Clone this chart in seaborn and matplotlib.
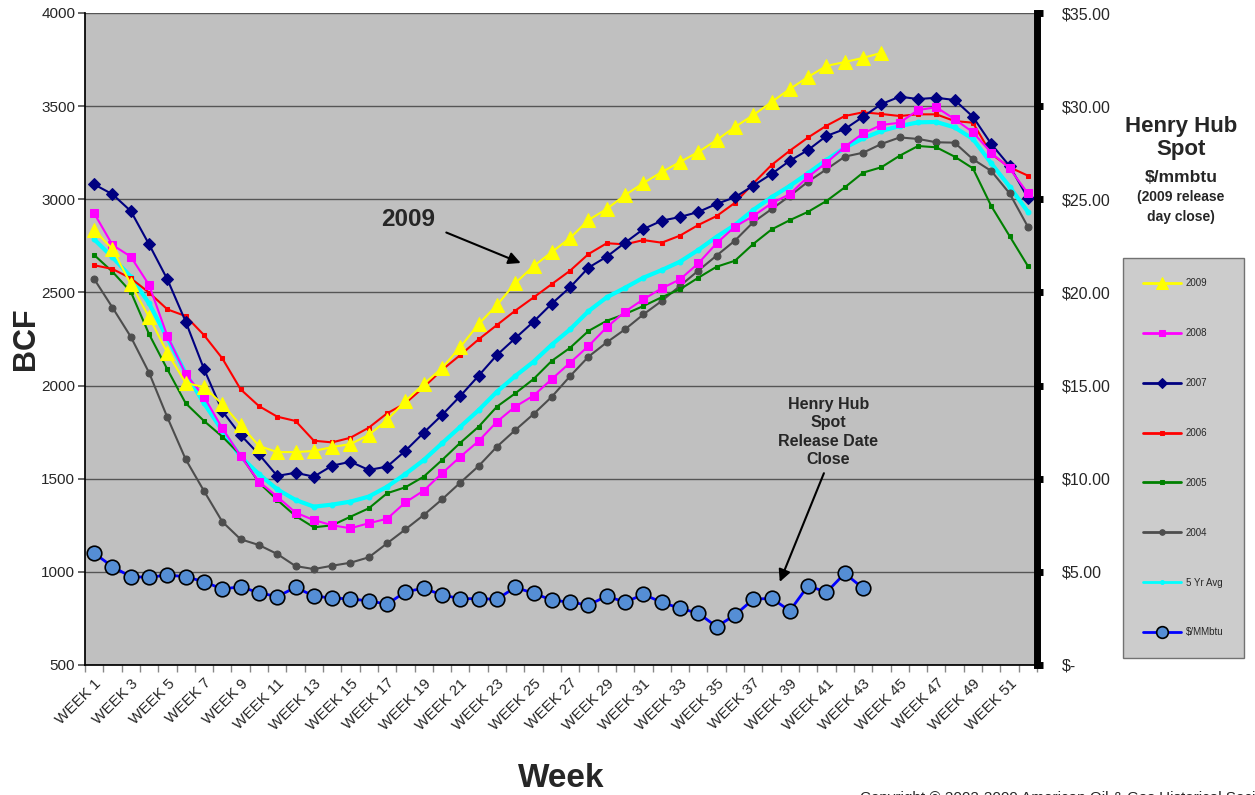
import numpy as np
import pandas as pd
import matplotlib
matplotlib.use('Agg')
import matplotlib.pyplot as plt
import seaborn as sns
from matplotlib.ticker import FixedLocator

sns.set_theme(style='white')
plt.rcParams['font.family'] = ['Liberation Sans', 'DejaVu Sans']

week_labels = [f'WEEK {i}' for i in range(1, 53)]

y2009 = [2835, 2733, 2545, 2368, 2175, 2014, 1992, 1901, 1788, 1676,
         1643, 1643, 1649, 1670, 1686, 1735, 1815, 1917, 2008, 2094,
         2207, 2330, 2432, 2550, 2641, 2717, 2792, 2889, 2948, 3023,
         3087, 3146, 3200, 3254, 3318, 3388, 3452, 3522, 3592, 3657,
         3716, 3737, 3759, 3786]
y2008 = [2925, 2755, 2692, 2540, 2266, 2062, 1940, 1771, 1622, 1484,
         1404, 1318, 1278, 1250, 1234, 1261, 1285, 1373, 1436, 1529,
         1618, 1702, 1806, 1887, 1946, 2035, 2123, 2212, 2313, 2397,
         2463, 2522, 2570, 2656, 2764, 2853, 2910, 2978, 3028, 3121,
         3196, 3282, 3354, 3399, 3411, 3479, 3494, 3430, 3360, 3250,
         3166, 3032]
y2007 = [3080, 3027, 2937, 2758, 2570, 2343, 2089, 1863, 1735, 1631,
         1515, 1532, 1511, 1570, 1591, 1547, 1565, 1650, 1747, 1842,
         1944, 2053, 2164, 2254, 2343, 2440, 2528, 2633, 2692, 2767,
         2840, 2885, 2905, 2932, 2975, 3011, 3073, 3136, 3207, 3265,
         3340, 3377, 3443, 3511, 3551, 3538, 3545, 3533, 3443, 3297,
         3179, 3008]
y2006 = [2646, 2626, 2576, 2499, 2409, 2373, 2271, 2146, 1980, 1890,
         1833, 1810, 1704, 1695, 1720, 1774, 1851, 1905, 1991, 2084,
         2164, 2248, 2325, 2402, 2473, 2545, 2617, 2706, 2764, 2758,
         2781, 2767, 2805, 2862, 2910, 2981, 3085, 3184, 3261, 3332,
         3395, 3447, 3467, 3458, 3447, 3456, 3456, 3420, 3411, 3243,
         3172, 3127]
y2005 = [2701, 2611, 2504, 2276, 2087, 1905, 1810, 1726, 1627, 1479,
         1386, 1300, 1239, 1250, 1296, 1341, 1422, 1454, 1511, 1600,
         1693, 1779, 1887, 1958, 2035, 2133, 2203, 2293, 2348, 2384,
         2427, 2474, 2517, 2579, 2638, 2670, 2760, 2838, 2888, 2933,
         2991, 3064, 3143, 3172, 3234, 3286, 3279, 3229, 3166, 2964,
         2803, 2642]
y2004 = [2572, 2419, 2262, 2069, 1829, 1604, 1434, 1269, 1175, 1144,
         1096, 1031, 1015, 1033, 1049, 1078, 1153, 1228, 1305, 1389,
         1479, 1568, 1672, 1761, 1847, 1940, 2051, 2155, 2232, 2302,
         2382, 2454, 2535, 2617, 2698, 2778, 2877, 2947, 3018, 3095,
         3161, 3229, 3250, 3297, 3332, 3324, 3306, 3304, 3215, 3152,
         3032, 2853]
avg5 = [2785, 2689, 2584, 2441, 2255, 2066, 1905, 1758, 1618, 1525,
        1443, 1386, 1350, 1361, 1377, 1404, 1457, 1525, 1600, 1690,
        1779, 1868, 1967, 2051, 2128, 2220, 2302, 2399, 2474, 2525,
        2579, 2620, 2665, 2728, 2799, 2862, 2943, 3011, 3072, 3140,
        3211, 3277, 3327, 3367, 3393, 3413, 3415, 3386, 3324, 3193,
        3068, 2933]
price = [6.00, 5.28, 4.74, 4.71, 4.83, 4.74, 4.47, 4.08, 4.20, 3.88,
         3.67, 4.17, 3.70, 3.60, 3.54, 3.45, 3.26, 3.93, 4.12, 3.76,
         3.56, 3.56, 3.53, 4.17, 3.85, 3.49, 3.37, 3.22, 3.70, 3.37,
         3.79, 3.37, 3.04, 2.78, 2.06, 2.68, 3.53, 3.58, 2.91, 4.26,
         3.90, 4.92, 4.12]

fig = plt.figure(figsize=(12.55, 7.95), dpi=100)
ax = fig.add_axes([85 / 1255, 1 - 665 / 795, (1037 - 85) / 1255, (665 - 13) / 795])
ax.set_facecolor('#C0C0C0')

series = [
    ('2009', y2009, '#FFFF00', '^', 10.5, 1.5),
    ('2008', y2008, '#FF00FF', 's', 6, 1.5),
    ('2007', y2007, '#000080', 'D', 6, 1.5),
    ('2006', y2006, '#FF0000', 's', 3, 1.5),
    ('2005', y2005, '#008000', 's', 3, 1.5),
    ('2004', y2004, '#4D4D4D', 'o', 5, 1.5),
    ('5 Yr Avg', avg5, '#00FFFF', 'o', 3.5, 3),
]
for i, (name, vals, col, mk, ms, lw) in enumerate(reversed(series)):
    sns.lineplot(x=np.arange(len(vals)), y=vals, ax=ax, color=col, marker=mk,
                 markersize=ms, markeredgecolor=col, linewidth=lw, label=name,
                 zorder=3 + i, legend=False)

ax.set_xlim(-0.5, 51.5)
ax.set_ylim(500, 4000)
ax.set_yticks(range(500, 4001, 500))
ax.yaxis.grid(True, color='#555555', linewidth=1)
ax.set_axisbelow(True)
ax.tick_params(axis='y', labelsize=11, length=5, color='#555555', left=True, pad=2)
ax.set_xticks(np.arange(0, 52, 2))
ax.set_xticklabels(week_labels[::2], rotation=45, ha='right', rotation_mode='anchor', fontsize=11)
ax.xaxis.set_minor_locator(FixedLocator(np.arange(-0.5, 52, 1)))
ax.tick_params(axis='x', which='major', length=0, pad=8)
ax.tick_params(axis='x', which='minor', length=5, color='#888888', bottom=True)
ax.set_xlabel('Week', fontsize=24, fontweight='bold', labelpad=22)
ax.set_ylabel('BCF', fontsize=22, fontweight='bold', labelpad=0)
ax.spines['top'].set_visible(False)
ax.spines['left'].set_color('black')
ax.spines['bottom'].set_color('black')
ax.spines['right'].set_visible(False)

ax2 = ax.twinx()
sns.lineplot(x=np.arange(len(price)), y=price, ax=ax2, color='#0000FF', marker='o',
             markersize=10.5, markerfacecolor='#558ED5', markeredgecolor='black',
             markeredgewidth=1.2, linewidth=2, label='$/MMbtu', legend=False, zorder=10)
ax2.set_ylim(0, 35)
ax2.set_yticks(range(0, 36, 5))
ax2.set_yticklabels(['$-'] + [f'${v}.00' for v in range(5, 36, 5)])
ax2.tick_params(axis='y', labelsize=11.5, length=4, width=5, color='black', right=True, pad=14)
ax2.spines['right'].set_linewidth(5)
ax2.spines['right'].set_color('black')
ax2.spines['top'].set_visible(False)
ax2.spines['left'].set_visible(False)
ax2.spines['bottom'].set_visible(False)
ax2.set_ylabel('')

h1, l1 = ax.get_legend_handles_labels()
h2, l2 = ax2.get_legend_handles_labels()
order = ['2009', '2008', '2007', '2006', '2005', '2004', '5 Yr Avg', '$/MMbtu']
lookup = dict(zip(l1 + l2, h1 + h2))
leg = fig.legend([lookup[k] for k in order], order, loc='upper left',
                 bbox_to_anchor=(1123 / 1255, 1 - 258 / 795), fontsize=7,
                 labelspacing=4.1, borderpad=2.1, handlelength=3.9, handletextpad=0.45,
                 borderaxespad=0, markerscale=0.8, frameon=True, fancybox=False)
leg.get_frame().set_facecolor('#C0C0C0')
leg.get_frame().set_edgecolor('#555555')
leg.get_frame().set_linewidth(1)
for ln in leg.get_lines():
    ln.set_linewidth(2)

fig.text(1181 / 1255, 1 - 138 / 795, 'Henry Hub\nSpot', ha='center', va='center',
         fontsize=16, fontweight='bold', linespacing=1.15)
fig.text(1181 / 1255, 1 - 178 / 795, '$/mmbtu', ha='center', va='center',
         fontsize=12.5, fontweight='bold')
fig.text(1181 / 1255, 1 - 207 / 795, '(2009 release\nday close)', ha='center', va='center',
         fontsize=10, fontweight='bold', linespacing=1.6)

ax.annotate('2009', xy=(23.3, 2658), xytext=(17.16, 2889), fontsize=17.5, fontweight='bold',
            ha='center', va='center',
            arrowprops=dict(arrowstyle='-|>', color='black', lw=1.5, mutation_scale=18,
                            relpos=(1.0, 0.15), shrinkA=6, shrinkB=0))
ax.annotate('Henry Hub\nSpot\nRelease Date\nClose', xy=(37.45, 946), xytext=(40.1, 1751),
            fontsize=11.5, fontweight='bold', ha='center', va='center', linespacing=1.3,
            arrowprops=dict(arrowstyle='-|>', color='black', lw=1.5, mutation_scale=18,
                            relpos=(0.48, 0.0), shrinkA=2, shrinkB=0))

fig.text(860 / 1255, 1 - 791 / 795, 'Copyright \u00a9 2002-2009 American Oil & Gas Historical Society',
         ha='left', va='top', fontsize=11)

fig.savefig('out.png', dpi=100)
